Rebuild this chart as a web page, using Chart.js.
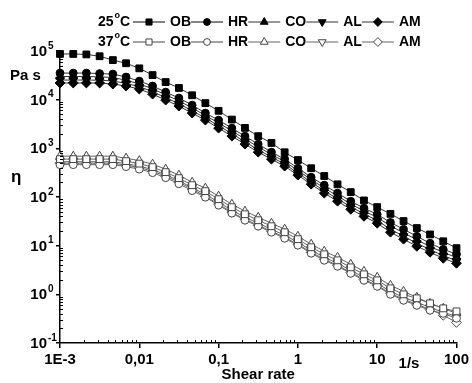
<!DOCTYPE html>
<html lang="en">
<head>
<meta charset="UTF-8">
<title>Viscosity vs shear rate</title>
<script src="https://cdn.jsdelivr.net/npm/chart.js"></script>
<style>
    body { margin: 0; background: #fff; }
    .chart-box { width: 472px; height: 383px; }
</style>
</head>
<body>
<div class="chart-box"><canvas id="viscChart"></canvas></div>
<script>
// shear rate, 1/s
const shearRates = [0.001, 0.00147, 0.00215, 0.00316, 0.00464, 0.00681, 0.01, 0.0147, 0.0215, 0.0316, 0.0464, 0.0681,
    0.1, 0.147, 0.215, 0.316, 0.464, 0.681, 1, 1.47, 2.15, 3.16, 4.64, 6.81, 10, 14.7, 21.5, 31.6, 46.4, 68.1, 100];

// viscosity, Pa s - 25 C
const ob25 = [87000, 87000, 85000, 78000, 65000, 56000, 44000, 32000, 23000, 17400, 12300, 8500, 5900, 3900, 2630, 1780,
    1290, 830, 575, 390, 270, 182, 126, 85, 62, 45, 32, 23, 17, 12.3, 8.9];
const hr25 = [35200, 35200, 35200, 34400, 33600, 29200, 24100, 19100, 14300, 10800, 7740, 5300, 3800, 2600, 1780, 1220,
    835, 600, 392, 255, 175, 120, 82, 59, 44, 30, 21.7, 15.6, 11.2, 8.4, 6.7];
const co25 = [29900, 29900, 29900, 29400, 28500, 25100, 21100, 16700, 12600, 9440, 6780, 4720, 3330, 2280, 1560, 1070,
    745, 535, 349, 228, 153, 105, 71.8, 51.5, 38.1, 25.6, 18.4, 13.2, 9.6, 7.3, 5.7];
const al25 = [25300, 25300, 25300, 25100, 24200, 21600, 18500, 14600, 11000, 8260, 5930, 4200, 2920, 2000, 1360, 935,
    662, 475, 310, 202, 134, 91.8, 62.8, 45.2, 32.8, 21.8, 15.6, 11.2, 8.3, 6.25, 4.9];
const am25 = [22000, 22000, 22000, 22000, 20900, 19100, 16500, 13000, 9800, 7380, 5300, 3800, 2600, 1780, 1220, 835,
    600, 430, 281, 183, 120, 82, 56, 40, 28.9, 18.9, 13.6, 9.7, 7.3, 5.5, 4.35];

// viscosity, Pa s - 37 C
const ob37 = [600, 600, 600, 600, 600, 546, 485, 411, 324, 244, 175, 132, 90.2, 61.7, 44.3, 33.3,
    25.1, 18.9, 13.6, 9.27, 6.65, 5.0, 3.59, 2.58, 1.94, 1.33, 1.0, 0.828, 0.653, 0.515, 0.447];
const hr37 = [461, 461, 461, 461, 461, 420, 373, 316, 249, 187, 135, 99.1, 67.9, 46.5, 33.3, 25.1,
    18.9, 14.2, 10.2, 6.98, 5.01, 3.77, 2.70, 1.94, 1.46, 1.0, 0.753, 0.594, 0.469, 0.406, 0.321];
const co37 = [690, 690, 690, 690, 690, 628, 558, 473, 373, 281, 201, 152, 104, 71.1, 51.1, 38.4,
    28.9, 21.8, 15.6, 10.7, 7.67, 5.77, 4.14, 2.97, 2.24, 1.53, 1.15, 0.867, 0.653, 0.515, 0.406];
const al37 = [532, 532, 532, 532, 532, 484, 431, 365, 288, 216, 155, 114, 78.2, 53.5, 38.4, 28.8,
    21.7, 16.4, 11.7, 8.04, 5.77, 4.34, 3.11, 2.23, 1.68, 1.15, 0.867, 0.684, 0.540, 0.426, 0.352];
const am37 = [495, 495, 495, 495, 495, 451, 401, 340, 268, 201, 145, 104, 71.1, 48.6, 34.9, 26.2,
    19.8, 14.9, 10.7, 7.31, 5.25, 3.94, 2.83, 2.03, 1.53, 1.05, 0.789, 0.622, 0.491, 0.370, 0.265];

const seriesNames = ['OB', 'HR', 'CO', 'AL', 'AM'];
const tempLabels = ['25', '37'];

const xTicks = [0.001, 0.01, 0.1, 1, 10, 100];
const xTickLabels = ['1E-3', '0,01', '0,1', '1', '10', '100'];
const yTicks = [0.1, 1, 10, 100, 1000, 10000, 100000];
const yTickExps = ['-1', '0', '1', '2', '3', '4', '5'];

const FONT = '"Liberation Sans", Arial, sans-serif';

// marker look per series
const styles = [
    { pointStyle: 'rect', radius: 4.8, rotation: 0 },
    { pointStyle: 'circle', radius: 3.9, rotation: 0 },
    { pointStyle: 'triangle', radius: 5, rotation: 0 },
    { pointStyle: 'triangle', radius: 5, rotation: 180 },
    { pointStyle: 'rectRot', radius: 4.9, rotation: 0 }
];

function makeSet(values, idx, hot) {
    const s = styles[idx];
    return {
        label: seriesNames[idx],
        data: values.map((v, i) => ({ x: shearRates[i], y: v })),
        borderColor: hot ? '#666' : '#333',
        borderWidth: 1,
        backgroundColor: hot ? '#fff' : '#000',
        pointBackgroundColor: hot ? '#fff' : '#000',
        pointBorderColor: hot ? '#444' : '#000',
        pointBorderWidth: 1,
        pointStyle: s.pointStyle,
        pointRadius: s.radius,
        pointRotation: s.rotation,
        tension: 0,
        clip: false
    };
}

const datasets = [
    makeSet(ob25, 0, false), makeSet(hr25, 1, false), makeSet(co25, 2, false), makeSet(al25, 3, false), makeSet(am25, 4, false),
    makeSet(ob37, 0, true), makeSet(hr37, 1, true), makeSet(co37, 2, true), makeSet(al37, 3, true), makeSet(am37, 4, true)
];

// minor ticks inside, y labels with exponent, legend and titles
const decorPlugin = {
    id: 'decor',
    afterDraw(chart) {
        const ctx = chart.ctx;
        const xs = chart.scales.x, ys = chart.scales.y;
        const area = chart.chartArea;
        ctx.save();
        ctx.strokeStyle = '#000';
        ctx.lineWidth = 1;
        ctx.beginPath();
        for (let d = 0.001; d < 100; d *= 10) {
            for (let m = 2; m <= 9; m++) {
                const px = Math.round(xs.getPixelForValue(d * m)) + 0.5;
                ctx.moveTo(px, area.bottom);
                ctx.lineTo(px, area.bottom - 3);
            }
        }
        for (let d = 0.1; d < 100000; d *= 10) {
            for (let m = 2; m <= 9; m++) {
                const py = Math.round(ys.getPixelForValue(d * m)) + 0.5;
                ctx.moveTo(area.left, py);
                ctx.lineTo(area.left + 3, py);
            }
        }
        ctx.stroke();

        // y tick labels 10^n
        ctx.fillStyle = '#000';
        ctx.textBaseline = 'middle';
        yTicks.forEach((v, i) => {
            const py = ys.getPixelForValue(v);
            ctx.font = 'bold 15px ' + FONT;
            ctx.textAlign = 'right';
            ctx.fillText('10', 47, py + 1);
            ctx.font = 'bold 10px ' + FONT;
            ctx.textAlign = 'left';
            ctx.fillText(yTickExps[i], 48, py - 5);
        });

        // axis titles and units
        ctx.font = 'bold 15px ' + FONT;
        ctx.textAlign = 'left';
        ctx.fillText('Pa s', 10, 76);
        ctx.font = 'bold 17px ' + FONT;
        ctx.fillText('η', 11, 177);
        ctx.font = 'bold 15px ' + FONT;
        ctx.textAlign = 'center';
        ctx.fillText('Shear rate', (area.left + area.right) / 2, 375);
        ctx.fillText('1/s', 409, 364);

        // legend, two rows: 25°C and 37°C
        const rowY = [22, 42];
        [0, 1].forEach(r => {
            const y = rowY[r];
            ctx.textAlign = 'left';
            ctx.font = 'bold 14px ' + FONT;
            ctx.fillText(tempLabels[r], 98, y);
            let x = 98 + ctx.measureText(tempLabels[r]).width + 1;
            ctx.font = 'bold 9px ' + FONT;
            ctx.fillText('o', x, y - 6);
            x += ctx.measureText('o').width;
            ctx.font = 'bold 14px ' + FONT;
            ctx.fillText('C', x, y);
            x = 133;
            for (let k = 0; k < 5; k++) {
                const ds = chart.data.datasets[r * 5 + k];
                ctx.strokeStyle = ds.borderColor;
                ctx.lineWidth = 1.2;
                ctx.beginPath();
                ctx.moveTo(x, y);
                ctx.lineTo(x + 32, y);
                ctx.stroke();
                ctx.fillStyle = ds.pointBackgroundColor;
                ctx.strokeStyle = ds.pointBorderColor;
                ctx.lineWidth = 1;
                Chart.helpers.drawPoint(ctx, {
                    pointStyle: ds.pointStyle, radius: ds.pointRadius - 0.5,
                    rotation: ds.pointRotation, borderWidth: 1
                }, x + 16, y);
                ctx.fillStyle = '#000';
                ctx.font = 'bold 14px ' + FONT;
                ctx.fillText(ds.label, x + 37, y);
                x += 37 + ctx.measureText(ds.label).width;
            }
        });
        ctx.restore();
    }
};

new Chart(document.getElementById('viscChart'), {
    type: 'line',
    data: { datasets: datasets },
    options: {
        responsive: true,
        maintainAspectRatio: false,
        animation: false,
        devicePixelRatio: 1,
        layout: { padding: { top: 51, right: 13, left: 0, bottom: 0 } },
        plugins: { legend: { display: false }, tooltip: { enabled: false } },
        scales: {
            x: {
                type: 'logarithmic',
                min: 0.001,
                max: 100,
                afterBuildTicks: (scale) => { scale.ticks = xTicks.map(v => ({ value: v })); },
                afterFit: (scale) => { scale.height = 40; },
                border: { display: true, color: '#000', width: 1.5 },
                grid: { drawOnChartArea: false, drawTicks: true, tickLength: 5, color: '#000', lineWidth: 1.5 },
                ticks: {
                    autoSkip: false,
                    maxRotation: 0,
                    padding: 3,
                    color: '#000',
                    font: { family: FONT, size: 15, weight: 'bold' },
                    callback: (value, index) => xTickLabels[index]
                }
            },
            y: {
                type: 'logarithmic',
                min: 0.1,
                max: 100000,
                afterBuildTicks: (scale) => { scale.ticks = yTicks.map(v => ({ value: v })); },
                afterFit: (scale) => { scale.width = 60; },
                border: { display: true, color: '#000', width: 1.5 },
                grid: { drawOnChartArea: false, drawTicks: true, tickLength: 4, color: '#000', lineWidth: 1.5 },
                ticks: { display: false }
            }
        }
    },
    plugins: [decorPlugin]
});
</script>
</body>
</html>
